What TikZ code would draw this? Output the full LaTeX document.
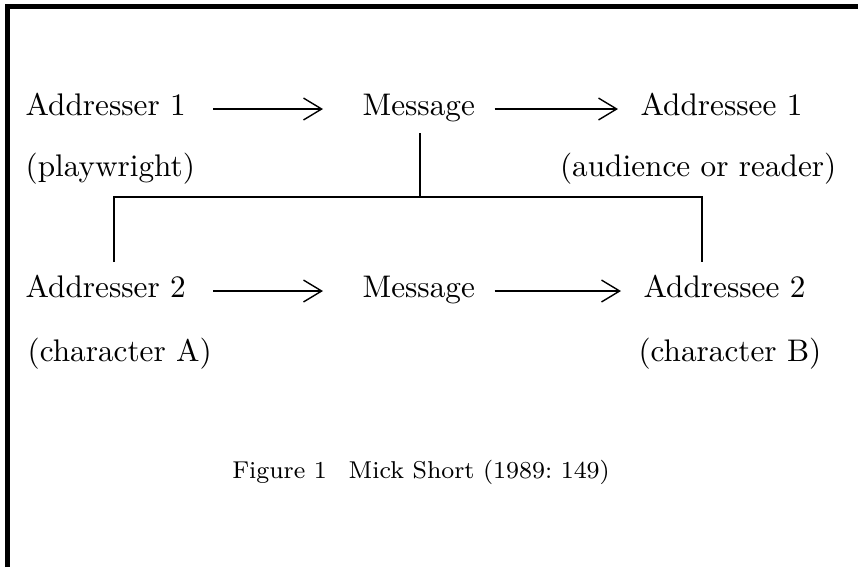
\documentclass[tikz,border=0pt]{standalone}
\usetikzlibrary{arrows.meta,calc}
\begin{document}
\begin{tikzpicture}[x=0.32pt,y=-0.32pt,
  lbl/.style={inner sep=0pt,anchor=base west,font=\fontsize{10}{12}\selectfont},
  rlbl/.style={inner sep=0pt,anchor=base east,font=\fontsize{10}{12}\selectfont},
  caplbl/.style={inner sep=0pt,anchor=base,font=\fontsize{7.8}{9.5}\selectfont},
  arr/.style={line width=0.45pt,-{Straight Barb[length=5.8pt,width=7pt,line width=0.45pt]}},
  link/.style={line width=0.6pt},
  frame/.style={line width=1.6pt}]
\useasboundingbox (0,0) rectangle (858,567);
% frame (only top and left edges visible)
\draw[frame] (7,567) -- (7,6.7) -- (858,6.7);
% row 1
\node[lbl] (a1) at (25,115) {Addresser 1};
\node[lbl] (m1) at (362,115) {Message};
\node[lbl] (e1) at (640,115) {Addressee 1};
\node[lbl] (p1) at (25,176) {(playwright)};
\node[rlbl] (r1) at (837,176) {(audience or reader)};
% row 2
\node[lbl] (a2) at (25,297) {Addresser 2};
\node[lbl] (m2) at (362,297) {Message};
\node[lbl] (e2) at (643,297) {Addressee 2};
\node[lbl] (p2) at (27,361) {(character A)};
\node[rlbl] (r2) at (822,361) {(character B)};
% caption
\node[caplbl] (cap) at (421,478) {Figure 1\hspace{7pt}Mick Short (1989:~149)};
% arrows
\draw[arr] ($(a1.base east)+(27,-6)$) -- ($(m1.base west)+(-39,-6)$);
\draw[arr] ($(m1.base east)+(19,-6)$) -- ($(e1.base west)+(-22,-6)$);
\draw[arr] ($(a2.base east)+(27,-6)$) -- ($(m2.base west)+(-39,-6)$);
\draw[arr] ($(m2.base east)+(19,-6)$) -- ($(e2.base west)+(-22,-6)$);
% bracket
\coordinate (jt) at (420,133);
\coordinate (jm) at (420,197);
\coordinate (jl) at (114,197);
\coordinate (jr) at (702,197);
\coordinate (bl) at (114,262);
\coordinate (br) at (702,262);
\draw[link] (jt) -- (jm);
\draw[link] (bl) -- (jl) -- (jr) -- (br);
\end{tikzpicture}
\end{document}
